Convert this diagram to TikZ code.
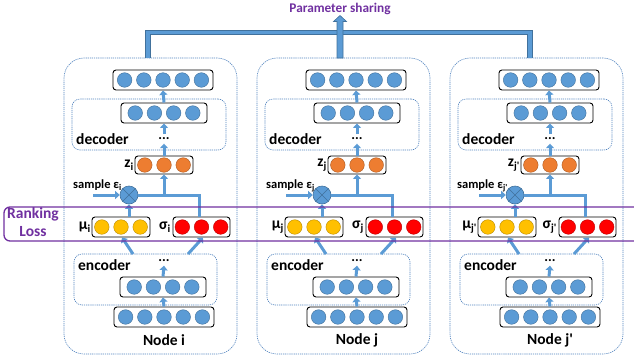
\documentclass[tikz,border=0pt]{standalone}
\usepackage{fontspec}
\setmainfont{Carlito}
\usetikzlibrary{arrows.meta,calc}
\definecolor{cblue}{HTML}{5B9BD5}
\definecolor{cdark}{HTML}{41719C}
\definecolor{corange}{HTML}{ED7D31}
\definecolor{cyellow}{HTML}{FFC000}
\definecolor{cred}{HTML}{FF0000}
\definecolor{cpurple}{HTML}{7030A0}
\definecolor{cdash}{HTML}{4F81BD}
\tikzset{
 box/.style={draw=black, line width=0.9pt, rounded corners=3pt, fill=white, minimum height=20pt, inner sep=0pt},
 dbox/.style={draw=cdash, line width=0.6pt, dash pattern=on 1.2pt off 0.9pt, rounded corners=8pt, inner sep=0pt},
 panelbox/.style={draw=cdash, line width=0.6pt, dash pattern=on 1.2pt off 0.9pt, rounded corners=20pt, inner sep=0pt, minimum width=173pt, minimum height=296pt},
 flow/.style={draw=cblue, line width=3pt, -{Triangle[width=8pt,length=4.5pt]}},
 link/.style={draw=cblue, line width=3pt},
 lbl/.style={font=\fontsize{15.5}{16}\selectfont\bfseries, inner sep=0pt},
 smalllbl/.style={font=\fontsize{12.5}{13}\selectfont\bfseries, inner sep=0pt},
 dotsnode/.style={font=\fontsize{14}{14}\selectfont\bfseries, inner sep=0pt, minimum width=10pt, minimum height=9pt},
 pipe/.style={draw=cblue, line width=3.6pt, preaction={draw=cdark, line width=5.2pt}},
}
\newcommand\crow[4]{\foreach \k in {1,...,#3}{\fill[#4, draw=#4!72!black, line width=0.4pt] ({#1+19.2*(\k-(#3+1)/2)}, #2) circle (7.3pt);}}
\begin{document}
\begin{tikzpicture}[x=1pt,y=-1pt]
\useasboundingbox (0,0) rectangle (634,362);
\clip (0,0) rectangle (634,362);
% parameter sharing
\node[font=\fontsize{13.3}{14}\selectfont\bfseries, text=cpurple, inner sep=0pt] (ps) at (340,9) {Parameter sharing};
\foreach \dx/\lab/\pn in {0/i/a, 193/j/b, 386/j\textquotesingle/c}{
\begin{scope}[shift={(\dx,0)}]
\node[panelbox] (P\pn) at (150.5,206) {};
% output
\node[box, minimum width=100pt] (out\pn) at (163,80) {};
\crow{163}{80}{5}{cblue}
% decoder
\node[dbox, minimum width=154pt, minimum height=51pt] (dec\pn) at (149,124.5) {};
\node[box, minimum width=86pt] (dh\pn) at (164,113) {};
\crow{164}{113}{4}{cblue}
\node[lbl, anchor=base west] (decl\pn) at (76,144) {decoder};
\node[dotsnode] (dd\pn) at (164,139) {...};
\draw[flow] (dh\pn.north) -- (out\pn.south);
\draw[flow] (dd\pn.north) -- (dh\pn.south);
% z
\node[box, minimum width=58pt, minimum height=18pt] (z\pn) at (164,165) {};
\crow{164}{165}{3}{corange}
\node[lbl, anchor=east] (zl\pn) at (134,165) {z\textsubscript{\lab}};
\draw[flow] (z\pn.north) -- (dd\pn.south);
% sampling
\node[circle, draw=cdark, fill=cblue, line width=0.6pt, minimum size=18pt, inner sep=0pt] (x\pn) at (129,195) {};
\draw[cdark, line width=0.6pt] (x\pn.north west) -- (x\pn.south east) (x\pn.north east) -- (x\pn.south west);
\node[smalllbl, anchor=base east] (sl\pn) at (122,188) {sample ε\textsubscript{\lab}};
\coordinate (sa\pn) at (93,195);
\draw[flow] (sa\pn) -- (x\pn.west);
% mu, sigma
\node[box, minimum width=58pt] (mu\pn) at (121,227) {};
\crow{121}{227}{3}{cyellow}
\node[box, minimum width=57pt] (sg\pn) at (201.5,227) {};
\crow{201.5}{227}{3}{cred}
\node[lbl, anchor=east] (ml\pn) at (91,227) {μ\textsubscript{\lab}};
\node[lbl, anchor=east] (gl\pn) at (171,227) {σ\textsubscript{\lab}};
\draw[flow] (mu\pn.north -| x\pn) -- (x\pn.south);
\coordinate (cn\pn) at (199,195);
\coordinate (br\pn) at (164,195);
\draw[link] (x\pn.east) -- (cn\pn) -- (cn\pn |- sg\pn.north);
\draw[flow] (br\pn) -- (z\pn.south);
% encoder
\node[dbox, minimum width=143pt, minimum height=51pt] (enc\pn) at (145.5,279.5) {};
\node[lbl, anchor=base west] (encl\pn) at (78,270) {encoder};
\node[box, minimum width=86pt] (eh\pn) at (163,287) {};
\crow{163}{287}{4}{cblue}
\node[dotsnode] (ed\pn) at (164,261) {...};
\draw[flow] (eh\pn.north) -- (ed\pn.south);
\node[box, minimum width=100pt] (in\pn) at (164,317) {};
\crow{164}{317}{5}{cblue}
\draw[flow] (in\pn.north) -- (eh\pn.south);
\node[lbl] (nl\pn) at (164,340) {Node \lab};
\coordinate (ea\pn) at (133,254);
\coordinate (eb\pn) at (188,254);
\draw[flow] (ea\pn) -- (122,237.5);
\draw[flow] (eb\pn) -- (203,237.5);
\end{scope}
}
% pipes
\draw[pipe] (Pa.north -| 148,0) -- (148,32.5) -- (530,32.5) -- (Pc.north -| 530,0);
\fill[cblue, draw=cdark, line width=0.6pt] (337,58) -- (337,21.5) -- (333.5,21.5) -- (340,15.5) -- (346.5,21.5) -- (343,21.5) -- (343,58) -- cycle;
% ranking loss
\draw[cpurple, line width=1.3pt, rounded corners=6pt] (4,207) rectangle (680,241);
\node[lbl, text=cpurple] (rk) at (33,214) {Ranking};
\node[lbl, text=cpurple] (ls) at (33,232) {Loss};
\end{tikzpicture}
\end{document}
